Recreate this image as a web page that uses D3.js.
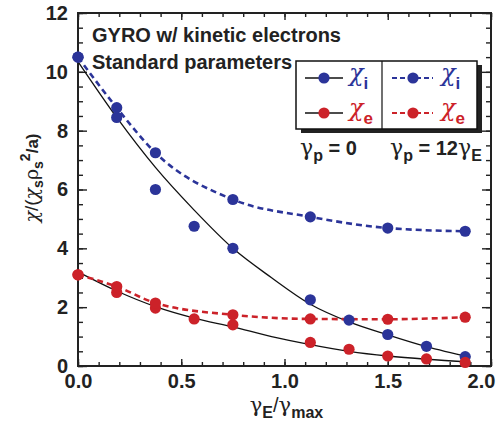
<!DOCTYPE html>
<html lang="en">
<head>
<meta charset="utf-8">
<title>GYRO chi vs gammaE</title>
<script src="https://cdn.jsdelivr.net/npm/d3@7/dist/d3.min.js"></script>
<style>
    body { margin: 0; background: #fff; }
    svg { display: block; font-family: "Liberation Sans", Arial, sans-serif; }
    .frame { fill: none; stroke: #222; stroke-width: 2; }
    .axis path { display: none; }
    .axis line { stroke: #222; stroke-width: 1.4; }
    .axis text { font-size: 20px; font-weight: bold; fill: #222; font-family: "Liberation Sans", Arial, sans-serif; }
    .fit { fill: none; stroke: #111; stroke-width: 1.3; }
    .dash { fill: none; stroke-width: 2.6; stroke-dasharray: 6 4; }
    .greek { font-family: "DejaVu Serif", serif; font-weight: normal; }
</style>
</head>
<body>
<svg></svg>
<script>
    var width = 499, height = 432;
    var margin = {left: 78, right: 8, top: 13, bottom: 66};

    // tick values
    var xTicks = [0, 0.5, 1.0, 1.5, 2.0];
    var yTicks = [0, 2, 4, 6, 8, 10, 12];

    // gamma_p = 0 runs (fitted with solid black curves)
    var x0 = [0, 0.1875, 0.375, 0.5625, 0.75, 1.125, 1.3125, 1.5, 1.6875, 1.875];
    var chiI0 = [10.5, 8.45, 6.0, 4.75, 4.0, 2.25, 1.56, 1.07, 0.67, 0.32];
    var chiE0 = [3.1, 2.5, 1.97, 1.6, 1.4, 0.8, 0.57, 0.34, 0.24, 0.12];

    // gamma_p = 12 gamma_E runs (dashed)
    var x12 = [0, 0.1875, 0.375, 0.75, 1.125, 1.5, 1.875];
    var chiI12 = [10.5, 8.78, 7.25, 5.66, 5.07, 4.69, 4.58];
    var chiE12 = [3.1, 2.7, 2.14, 1.74, 1.6, 1.59, 1.66];

    // solid fit curves
    var fitX = [0, 0.1875, 0.375, 0.5625, 0.75, 0.9375, 1.125, 1.3125, 1.5, 1.6875, 1.9];
    var fitI = [10.35, 8.45, 6.75, 5.3, 4.0, 3.0, 2.1, 1.5, 1.06, 0.66, 0.3];
    var fitE = [3.2, 2.55, 2.02, 1.63, 1.33, 1.0, 0.73, 0.5, 0.34, 0.23, 0.14];

    var blue = "#2b3499", red = "#cc2229";

    var x = d3.scaleLinear().domain([0, 2]).range([margin.left, width - margin.right]);
    var y = d3.scaleLinear().domain([0, 12]).range([height - margin.bottom, margin.top]);

    var svg = d3.select("svg").attr("width", width).attr("height", height);

    // minor + major ticks on all four sides, pointing inward
    var minorX = d3.range(0, 2.0001, 0.1), minorY = d3.range(0, 12.0001, 0.5);
    svg.append("g").attr("class", "axis")
        .attr("transform", "translate(0," + y(0) + ")")
        .call(d3.axisBottom(x).tickValues(minorX).tickSize(-4).tickFormat(""));
    svg.append("g").attr("class", "axis")
        .attr("transform", "translate(0," + y(12) + ")")
        .call(d3.axisTop(x).tickValues(minorX).tickSize(-4).tickFormat(""));
    svg.append("g").attr("class", "axis")
        .attr("transform", "translate(" + x(0) + ",0)")
        .call(d3.axisLeft(y).tickValues(minorY).tickSize(-5).tickFormat(""));
    svg.append("g").attr("class", "axis")
        .attr("transform", "translate(" + x(2) + ",0)")
        .call(d3.axisRight(y).tickValues(minorY).tickSize(-5).tickFormat(""));

    var xAxis = svg.append("g").attr("class", "axis")
        .attr("transform", "translate(0," + y(0) + ")")
        .call(d3.axisBottom(x).tickValues(xTicks).tickSize(-7).tickPadding(8).tickFormat(d3.format(".1f")));
    xAxis.selectAll("text").filter(function (d) { return d === 2; }).attr("dx", "-10");
    svg.append("g").attr("class", "axis")
        .attr("transform", "translate(0," + y(12) + ")")
        .call(d3.axisTop(x).tickValues(xTicks).tickSize(-7).tickFormat(""));
    svg.append("g").attr("class", "axis")
        .attr("transform", "translate(" + x(0) + ",0)")
        .call(d3.axisLeft(y).tickValues(yTicks).tickSize(-9).tickPadding(10).tickFormat(d3.format("d")));
    svg.append("g").attr("class", "axis")
        .attr("transform", "translate(" + x(2) + ",0)")
        .call(d3.axisRight(y).tickValues(yTicks).tickSize(-9).tickFormat(""));

    svg.append("rect").attr("class", "frame")
        .attr("x", x(0)).attr("y", y(12))
        .attr("width", x(2) - x(0)).attr("height", y(0) - y(12));

    function zip(xs, ys) { return xs.map(function (v, i) { return [v, ys[i]]; }); }

    var smooth = d3.line().x(function (d) { return x(d[0]); }).y(function (d) { return y(d[1]); })
        .curve(d3.curveMonotoneX);

    svg.append("path").attr("class", "fit").attr("d", smooth(zip(fitX, fitI)));
    svg.append("path").attr("class", "fit").attr("d", smooth(zip(fitX, fitE)));
    svg.append("path").attr("class", "dash").attr("stroke", blue).attr("d", smooth(zip(x12, chiI12)));
    svg.append("path").attr("class", "dash").attr("stroke", red).attr("d", smooth(zip(x12, chiE12)));

    function dots(xs, ys, color) {
        svg.append("g").selectAll("circle").data(zip(xs, ys)).enter().append("circle")
            .attr("cx", function (d) { return x(d[0]); })
            .attr("cy", function (d) { return y(d[1]); })
            .attr("r", 5.6).attr("fill", color);
    }
    dots(x0, chiI0, blue);
    dots(x12, chiI12, blue);
    dots(x0, chiE0, red);
    dots(x12, chiE12, red);

    // title
    var title = svg.append("g").attr("font-weight", "bold").attr("font-size", 20).attr("fill", "#222");
    title.append("text").attr("x", 92).attr("y", 42).text("GYRO w/ kinetic electrons");
    title.append("text").attr("x", 92).attr("y", 69).text("Standard parameters");

    // legend box
    var lg = svg.append("g");
    var bx = 296, by = 61, bw = 181, bh = 68;
    lg.append("rect").attr("x", bx + 5).attr("y", by + 4).attr("width", bw).attr("height", bh).attr("fill", "#222");
    lg.append("rect").attr("x", bx).attr("y", by).attr("width", bw).attr("height", bh)
        .attr("fill", "#fff").attr("stroke", "#111").attr("stroke-width", 1.5);
    lg.append("line").attr("x1", bx + 86).attr("x2", bx + 86).attr("y1", by).attr("y2", by + bh)
        .attr("stroke", "#111").attr("stroke-width", 1.2);

    var rows = [{sub: "i", color: blue, yy: 78}, {sub: "e", color: red, yy: 113}];
    rows.forEach(function (r) {
        // solid entry
        lg.append("line").attr("x1", 305).attr("x2", 343).attr("y1", r.yy).attr("y2", r.yy)
            .attr("stroke", "#111").attr("stroke-width", 1.3);
        lg.append("circle").attr("cx", 324).attr("cy", r.yy).attr("r", 5.6).attr("fill", r.color);
        // dashed entry
        lg.append("line").attr("x1", 392).attr("x2", 433).attr("y1", r.yy).attr("y2", r.yy)
            .attr("stroke", r.color).attr("stroke-width", 2.2).attr("stroke-dasharray", "5 3");
        lg.append("circle").attr("cx", 413).attr("cy", r.yy).attr("r", 5.6).attr("fill", r.color);
        [349, 441].forEach(function (tx) {
            var t = lg.append("text").attr("x", tx).attr("y", r.yy + 3).attr("fill", r.color).attr("font-size", 24);
            t.append("tspan").attr("class", "greek").attr("font-style", "italic").text("χ");
            t.append("tspan").attr("dy", 8).attr("font-size", 17).attr("font-weight", "bold").text(r.sub);
        });
    });

    var gp0 = svg.append("text").attr("x", 300).attr("y", 155).attr("font-size", 20).attr("font-weight", "bold").attr("fill", "#222");
    gp0.append("tspan").attr("class", "greek").attr("font-size", 22).text("γ");
    gp0.append("tspan").attr("dy", 6).attr("font-size", 16).text("p");
    gp0.append("tspan").attr("dy", -6).text(" = 0");

    var gp12 = svg.append("text").attr("x", 390).attr("y", 155).attr("font-size", 20).attr("font-weight", "bold").attr("fill", "#222");
    gp12.append("tspan").attr("class", "greek").attr("font-size", 22).text("γ");
    gp12.append("tspan").attr("dy", 6).attr("font-size", 16).text("p");
    gp12.append("tspan").attr("dy", -6).text(" = 12");
    gp12.append("tspan").attr("class", "greek").attr("font-size", 22).text("γ");
    gp12.append("tspan").attr("dy", 6).attr("font-size", 16).text("E");

    // x axis title
    var xt = svg.append("text").attr("x", (x(0) + x(2)) / 2 + 2).attr("y", 412)
        .attr("text-anchor", "middle").attr("font-size", 21).attr("fill", "#222");
    xt.append("tspan").attr("class", "greek").text("γ");
    xt.append("tspan").attr("dy", 6).attr("font-size", 16).attr("font-weight", "bold").text("E");
    xt.append("tspan").attr("dy", -6).attr("font-size", 20).text("/");
    xt.append("tspan").attr("class", "greek").text("γ");
    xt.append("tspan").attr("dy", 6).attr("font-size", 16).attr("font-weight", "bold").text("max");

    // y axis title
    var yt = svg.append("text").attr("transform", "translate(38," + 178 + ") rotate(-90)")
        .attr("text-anchor", "middle").attr("font-size", 19).attr("fill", "#222");
    yt.append("tspan").attr("class", "greek").attr("font-style", "italic").text("χ");
    yt.append("tspan").text("/(");
    yt.append("tspan").attr("class", "greek").attr("font-style", "italic").text("χ");
    yt.append("tspan").attr("dy", 5).attr("font-size", 14).attr("font-weight", "bold").text("s");
    yt.append("tspan").attr("dy", -5).attr("class", "greek").text("ρ");
    yt.append("tspan").attr("dy", 5).attr("font-size", 14).attr("font-weight", "bold").text("s");
    yt.append("tspan").attr("dy", -13).attr("font-size", 14).attr("font-weight", "bold").text("2");
    yt.append("tspan").attr("dy", 8).attr("font-weight", "bold").attr("font-size", 17).text("/a)");
</script>
</body>
</html>
